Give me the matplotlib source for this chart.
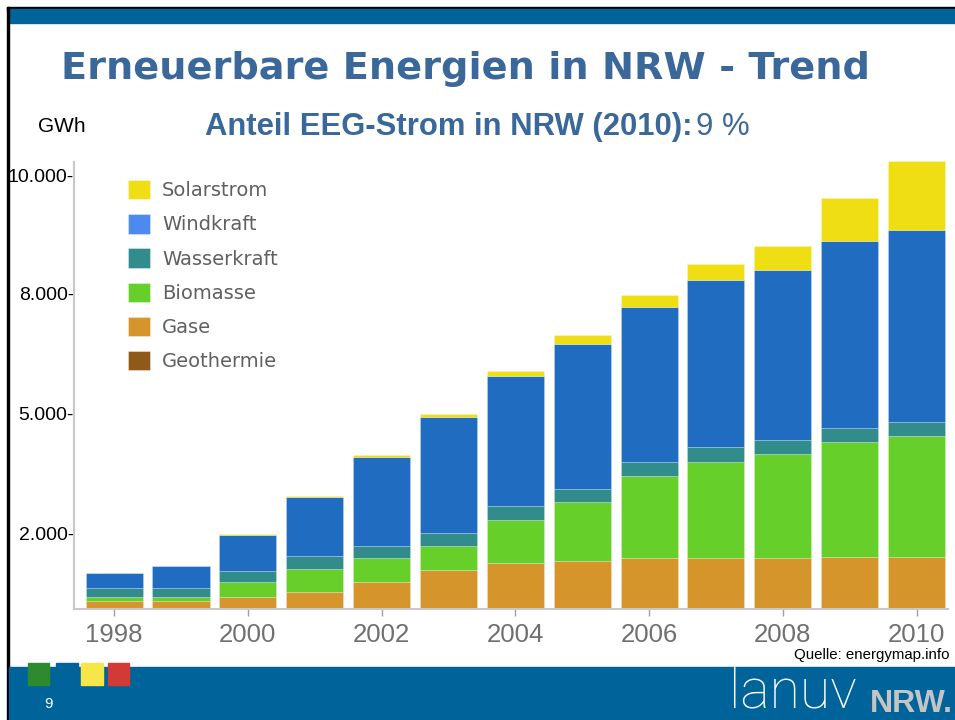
import matplotlib.pyplot as plt
from matplotlib.patches import Rectangle, Patch

# Daten (GWh)
jahre = list(range(1998, 2011))
geothermie = [0, 0, 0, 0, 0, 0, 0, 0, 0, 0, 0, 0, 0]
gase = [175, 180, 270, 400, 615, 890, 1050, 1100, 1170, 1170, 1165, 1190, 1190]
biomasse = [90, 95, 360, 515, 565, 570, 990, 1360, 1900, 2225, 2400, 2650, 2795]
wasserkraft = [220, 220, 255, 305, 275, 300, 330, 305, 325, 330, 330, 335, 330]
windkraft = [350, 485, 825, 1355, 2050, 2675, 2995, 3340, 3570, 3855, 3915, 4310, 4415]
solarstrom = [5, 5, 10, 25, 40, 55, 115, 205, 270, 360, 555, 975, 1590]

namen = ['Geothermie', 'Gase', 'Biomasse', 'Wasserkraft', 'Windkraft', 'Solarstrom']
serien = [geothermie, gase, biomasse, wasserkraft, windkraft, solarstrom]
farben = ['#8f5a17', '#d5952a', '#66cf2a', '#338c8c', '#206cc0', '#f0de14']
legende_farben = ['#8f5a17', '#d5952a', '#66cf2a', '#338c8c', '#4d8af0', '#f0de14']

# Beschriftung der y-Achse (wie auf der Folie)
ytick_werte = [1745, 4510, 7275, 10000]
ytick_texte = ['2.000-', '5.000-', '8.000-', '10.000-']
xtick_jahre = [1998, 2000, 2002, 2004, 2006, 2008, 2010]

W, H = 955, 720
def fx(x):
    return x / W
def fy(y):
    return 1 - y / H

ARIAL = ['Liberation Sans', 'DejaVu Sans']
BLAU = '#00649b'
TITEL = '#3a689a'

fig = plt.figure(figsize=(W / 100, H / 100), dpi=100)

################ Folie ################
fig.patches.append(Rectangle((fx(7), fy(9.5)), 1, fy(7) - fy(9.5), transform=fig.transFigure, color='black', zorder=0))
fig.patches.append(Rectangle((fx(8.5), fy(22.5)), 1, fy(9.5) - fy(22.5), transform=fig.transFigure, color=BLAU, zorder=0))
fig.patches.append(Rectangle((fx(7), 0), fx(1.5), fy(7), transform=fig.transFigure, color='black', zorder=0))
fig.patches.append(Rectangle((fx(8.5), 0), 1, fy(667), transform=fig.transFigure, color=BLAU, zorder=0))
for x0, c in [(27.5, '#2e8a2e'), (56, BLAU), (81, '#f7e64a'), (107.5, '#d23a36')]:
    fig.patches.append(Rectangle((fx(x0), fy(685)), fx(21.5), fy(663) - fy(685), transform=fig.transFigure, color=c, zorder=1))

fig.text(fx(465), fy(69), 'Erneuerbare Energien in NRW - Trend', ha='center', va='center',
         fontsize=27.5, fontweight='bold', color=TITEL, family=['DejaVu Sans'])
fig.text(fx(205), fy(127), 'Anteil EEG-Strom in NRW (2010):', ha='left', va='center',
         fontsize=22.3, fontweight='bold', color=TITEL, family=ARIAL)
fig.text(fx(696), fy(127), '9 %', ha='left', va='center',
         fontsize=22.3, color=TITEL, family=ARIAL)
fig.text(fx(38), fy(126), 'GWh', ha='left', va='center', fontsize=15, color='black', family=ARIAL)
fig.text(fx(949), fy(655), 'Quelle: energymap.info', ha='right', va='center', fontsize=10.8, color='black', family=ARIAL)
fig.text(fx(48), fy(704), '9', ha='center', va='center', fontsize=11, color='white', family=ARIAL)
fig.text(fx(729), fy(719), 'lanuv', ha='left', va='bottom', fontsize=40, color='white',
         family=['Roboto', 'DejaVu Sans'], fontweight='light')
fig.text(fx(953), fy(712), 'NRW.', ha='right', va='baseline', fontsize=23, fontweight='bold',
         color='#c4c4c4', family=ARIAL)

################ Diagramm ################
ax = fig.add_axes([fx(74), fy(609), fx(948) - fx(74), fy(162) - fy(609)])
ax.patch.set_alpha(0)

boden = [0] * len(jahre)
for werte, farbe in zip(serien, farben):
    ax.bar(jahre, werte, width=0.853, bottom=boden, color=farbe,
           edgecolor=(1, 1, 1, 0.3), linewidth=0.5, zorder=2, clip_on=False)
    boden = [b + v for b, v in zip(boden, werte)]

ax.set_xlim(1997.40, 2010.47)
ax.set_ylim(0, 10300)

for s in ['top', 'right']:
    ax.spines[s].set_visible(False)
for s in ['left', 'bottom']:
    ax.spines[s].set_color('#c8c8c8')
    ax.spines[s].set_linewidth(1.5)

ax.set_xticks(xtick_jahre)
ax.set_xticklabels([str(j) for j in xtick_jahre])
ax.tick_params(axis='x', length=5, width=1, color='#a0a0a0', pad=5, labelsize=18.5, labelcolor='#707070')
for t in ax.get_xticklabels():
    t.set_family(ARIAL)

ax.set_yticks(ytick_werte)
ax.set_yticklabels(ytick_texte)
ax.tick_params(axis='y', length=0, pad=0, labelsize=14, labelcolor='black')
for t in ax.get_yticklabels():
    t.set_family(ARIAL)

handles = [Patch(facecolor=c, edgecolor=(1, 1, 1, 0.5), linewidth=0.5) for c in legende_farben[::-1]]
ax.legend(handles, namen[::-1], loc='upper left', bbox_to_anchor=(fx(128), fy(180)),
          bbox_transform=fig.transFigure, frameon=False, fontsize=14, labelcolor='#606060',
          handlelength=1.15, handleheight=1.15, handletextpad=0.6, labelspacing=0.72,
          borderpad=0, borderaxespad=0)

plt.savefig('out.png', dpi=100)
